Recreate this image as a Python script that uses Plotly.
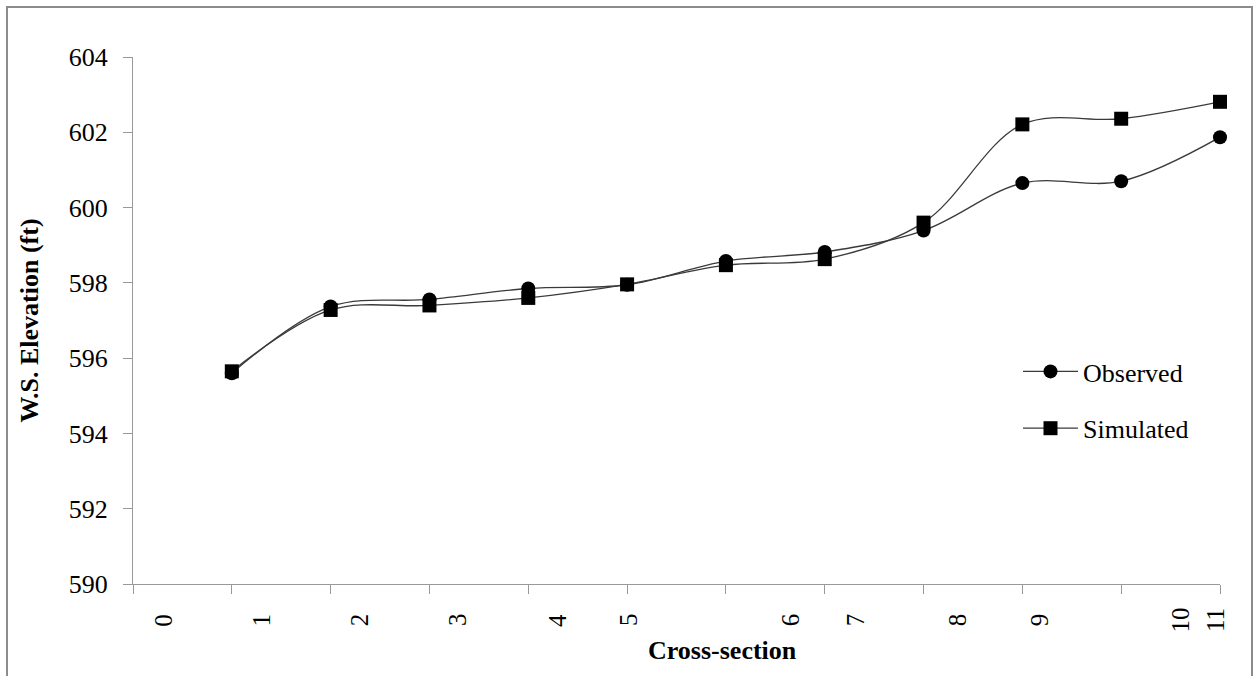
import plotly.graph_objects as go

# Water-surface elevation at each cross-section
sections = [1, 2, 3, 4, 5, 6, 7, 8, 9, 10, 11]
observed = [595.60, 597.37, 597.56, 597.85, 597.95, 598.58, 598.82, 599.39, 600.65, 600.70, 601.87]
simulated = [595.65, 597.28, 597.40, 597.60, 597.96, 598.47, 598.63, 599.60, 602.21, 602.36, 602.81]

tick_marks = list(range(0, 12))
tick_text = ["0", "1", "2", "3", "4", "5", "6", "7", "8", "9", "10", "11"]
# where each cross-section label sits along the axis
tick_text_pos = [0.30, 1.30, 2.29, 3.28, 4.29, 5.01, 6.65, 7.31, 8.34, 9.17, 10.60, 10.95]

W, H = 1256, 676
L, R, T, B = 133, 36, 57, 92
PW, PH = W - L - R, H - T - B

def px_x(p):
    return (p - L) / PW

def px_y(p):
    return (H - B - p) / PH

FONT = "Liberation Serif"
LINE = "#3a3a3a"

fig = go.Figure()
fig.add_trace(go.Scatter(
    x=sections, y=observed, name="Observed", mode="lines+markers",
    line=dict(color=LINE, width=1.3, shape="spline", smoothing=1.0),
    marker=dict(symbol="circle", size=14, color="black"),
    cliponaxis=False, legendgroup="a",
))
fig.add_trace(go.Scatter(
    x=sections, y=simulated, name="Simulated", mode="lines+markers",
    line=dict(color=LINE, width=1.3, shape="spline", smoothing=1.0),
    marker=dict(symbol="square", size=14, color="black"),
    cliponaxis=False, legendgroup="b",
))

annotations = []
for pos, txt in zip(tick_text_pos, tick_text):
    annotations.append(dict(
        x=pos, xref="x", y=px_y(620), yref="paper", text=txt, showarrow=False,
        textangle=-90, xanchor="center", yanchor="middle",
        font=dict(family=FONT, size=25, color="black"),
    ))
annotations.append(dict(
    x=px_x(722), xref="paper", y=px_y(650), yref="paper", text="<b>Cross-section</b>",
    showarrow=False, xanchor="center", yanchor="middle",
    font=dict(family=FONT, size=26, color="black"),
))

fig.update_layout(
    width=W, height=H,
    margin=dict(l=L, r=R, t=T, b=B, pad=0),
    paper_bgcolor="white", plot_bgcolor="white",
    font=dict(family=FONT, size=26, color="black"),
    showlegend=True,
    legend=dict(
        x=px_x(1018), y=px_y(348), xanchor="left", yanchor="top",
        bgcolor="rgba(0,0,0,0)", font=dict(family=FONT, size=26, color="black"),
        itemwidth=55, tracegroupgap=20, traceorder="grouped",
    ),
    xaxis=dict(
        range=[0, 11], tickmode="array", tickvals=tick_marks, showticklabels=False,
        ticks="outside", ticklen=9, tickcolor="#999", tickwidth=1,
        showline=True, linecolor="#999", linewidth=1, showgrid=False, zeroline=False,
    ),
    yaxis=dict(
        range=[590, 604], dtick=2, tick0=590,
        ticks="outside", ticklen=9, tickcolor="#999", tickwidth=1,
        showline=True, linecolor="#999", linewidth=1, showgrid=False, zeroline=False,
        tickfont=dict(family=FONT, size=26, color="black"), ticklabelstandoff=10,
        title=dict(text="<b>W.S. Elevation (ft)</b>", font=dict(family=FONT, size=26, color="black"), standoff=22),
    ),
    annotations=annotations,
    shapes=[dict(
        type="rect", xref="paper", yref="paper",
        x0=px_x(7), x1=px_x(1252), y0=px_y(700), y1=px_y(7),
        line=dict(color="#8c8c8c", width=2), fillcolor="rgba(0,0,0,0)", layer="below",
    )],
)

fig.write_html("out.html")
